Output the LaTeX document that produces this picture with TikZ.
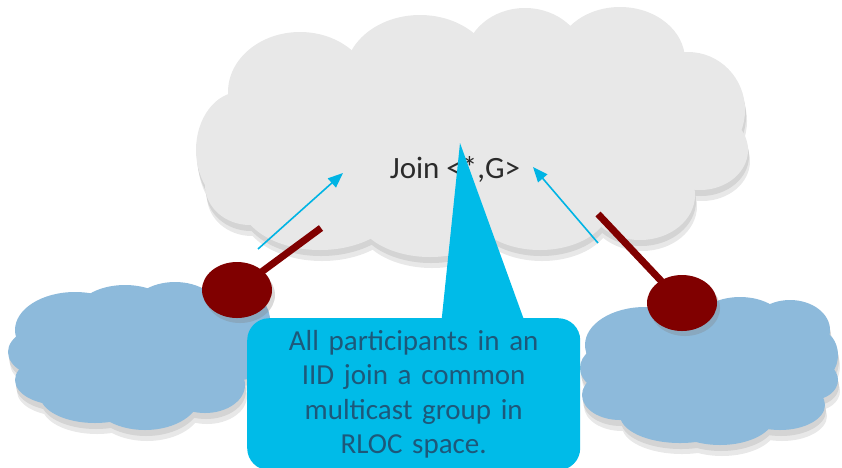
\documentclass[tikz,border=0pt]{standalone}
\usepackage{fontspec}
\setmainfont{Carlito}
\usetikzlibrary{shapes.geometric,arrows.meta,calc,shadows}
\usepackage{xcolor}
\definecolor{cloudgrey}{HTML}{E8E8E8}
\definecolor{cloudblue}{HTML}{8DBADB}
\definecolor{routerred}{HTML}{800000}
\definecolor{arrowblue}{HTML}{00B4E4}
\definecolor{notefill}{HTML}{00BBE8}
\definecolor{notetext}{HTML}{1D587A}
\definecolor{jointext}{HTML}{2B2B2B}
\tikzset{>=latex,
  softshadow/.style={fill=black!9},
  lobeshadow/.style={fill=black!17},
  router/.style={ellipse, fill=routerred, minimum width=70pt, minimum height=56pt,
    inner sep=0pt, drop shadow={shadow xshift=3pt, shadow yshift=-5pt, opacity=0.3}},
  stick/.style={routerred, line width=7pt, shorten >=-8pt},
  joinarrow/.style={arrowblue, line width=1.6pt, -{Triangle[length=15pt,width=12pt]}},
  note/.style={fill=notefill, rounded corners=22pt, text=notetext, align=center,
    text width=320pt, inner sep=0pt, font=\fontsize{29}{34.5}\selectfont}
}
% lobes of the clouds: x/y/x radius/y radius
\newcommand{\GreyLobes}{300/92/72/60, 240/150/44/58, 420/75/75/60, 525/60/60/52,
  620/60/65/53, 688/110/57/58, 700/150/48/40, 640/195/55/45, 540/205/70/45,
  430/210/75/47, 320/200/80/50, 250/185/45/40, 470/140/230/90}
\newcommand{\LeftLobes}{75/330/60/38, 125/315/50/30, 175/312/45/30, 225/320/45/35,
  50/352/42/26, 60/380/45/25, 95/395/55/28, 145/395/55/35, 205/385/40/28,
  240/350/30/30, 135/355/110/50}
\newcommand{\RightLobes}{645/345/60/38, 612/368/32/24, 620/395/38/25, 680/415/60/28,
  720/415/55/30, 780/405/45/25, 812/380/26/20, 818/355/20/25, 790/330/40/30,
  740/325/45/28, 710/370/110/55}

\begin{document}
\begin{tikzpicture}[x=1pt,y=-1pt]
\useasboundingbox (0,0) rectangle (842,467);

% big grey cloud
\foreach \cx/\cy/\rx/\ry in \GreyLobes
\fill[softshadow] (\cx+2,\cy+11) ellipse [x radius=\rx pt, y radius=\ry pt];
\foreach \cx/\cy/\rx/\ry in \GreyLobes
\fill[lobeshadow] (\cx+1,\cy+6) ellipse [x radius=\rx pt, y radius=\ry pt];
\foreach \cx/\cy/\rx/\ry in \GreyLobes
\fill[cloudgrey] (\cx,\cy) ellipse [x radius=\rx pt, y radius=\ry pt];

% blue clouds
\foreach \cx/\cy/\rx/\ry in \LeftLobes
\fill[softshadow] (\cx+2,\cy+11) ellipse [x radius=\rx pt, y radius=\ry pt];
\foreach \cx/\cy/\rx/\ry in \LeftLobes
\fill[lobeshadow] (\cx+1,\cy+6) ellipse [x radius=\rx pt, y radius=\ry pt];
\foreach \cx/\cy/\rx/\ry in \LeftLobes
\fill[cloudblue] (\cx,\cy) ellipse [x radius=\rx pt, y radius=\ry pt];
\foreach \cx/\cy/\rx/\ry in \RightLobes
\fill[softshadow] (\cx+2,\cy+11) ellipse [x radius=\rx pt, y radius=\ry pt];
\foreach \cx/\cy/\rx/\ry in \RightLobes
\fill[lobeshadow] (\cx+1,\cy+6) ellipse [x radius=\rx pt, y radius=\ry pt];
\foreach \cx/\cy/\rx/\ry in \RightLobes
\fill[cloudblue] (\cx,\cy) ellipse [x radius=\rx pt, y radius=\ry pt];

% join label
\node[anchor=base, text=jointext, font=\fontsize{31}{36}\selectfont] (join) at (455,178) {Join <*,G>};

% routers
\coordinate (ltop) at (321,228);
\coordinate (rtop) at (598,214);
\node[router] (lrtr) at (237,290) {};
\node[router] (rrtr) at (682,303) {};
\draw[stick] (ltop) -- (lrtr);
\draw[stick] (rtop) -- (rrtr);

% joins sent towards the core
\coordinate (lfoot) at (258,249);
\coordinate (lhead) at (343,173);
\coordinate (rfoot) at (598,243);
\coordinate (rhead) at (533,167);
\draw[joinarrow] (lfoot) -- (lhead);
\draw[joinarrow] (rfoot) -- (rhead);

% callout
\coordinate (tip) at (460,143);
\node[note, minimum width=333pt, minimum height=152pt, anchor=north west] (note) at (247,318)
  {All participants in an\\IID join a common\\multicast group in\\RLOC space.};
\fill[notefill] (tip) -- ($(note.north)+(28,1)$) -- ($(note.north)+(110,1)$) -- cycle;
\end{tikzpicture}
\end{document}
